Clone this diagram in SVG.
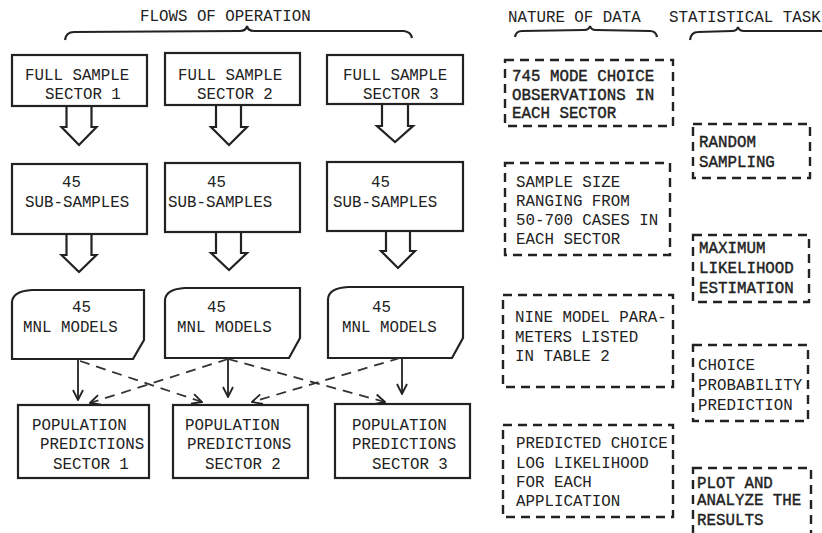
<svg xmlns="http://www.w3.org/2000/svg" width="822" height="533" viewBox="0 0 822 533">
<defs>
<style>
text{font-family:"Liberation Mono","Courier New",monospace;font-size:15.8px;fill:#222}
.b{fill:#222;stroke:#222;stroke-width:0.4}
.box{fill:none;stroke:#222;stroke-width:2.2}
.dbox{fill:none;stroke:#222;stroke-width:2.4;stroke-dasharray:9 6}
.hollow{fill:none;stroke:#222;stroke-width:2.2;stroke-linejoin:miter}
.brace{fill:none;stroke:#222;stroke-width:2.2}
.solid{stroke:#222;stroke-width:1.8;fill:none}
.dash{stroke:#333;stroke-width:1.8;fill:none;stroke-dasharray:10 7}
</style>
<marker id="ah" viewBox="0 0 12 12" refX="11" refY="6" markerWidth="12" markerHeight="12" markerUnits="userSpaceOnUse" orient="auto">
<path d="M1,1 L11,6 L1,11" fill="none" stroke="#222" stroke-width="1.8" stroke-dasharray="none"/>
</marker>
</defs>
<rect width="822" height="533" fill="#fff"/>

<g id="headers">
<text x="140" y="21">FLOWS OF OPERATION</text>
<path class="brace" d="M65,40 Q66,32 74,32 L240,31 Q246,31 247,26 Q248,31 254,31 L404,31 Q411,32 412,38"/>
<text x="508" y="22">NATURE OF DATA</text>
<path class="brace" d="M515,37 Q516,31 522,31 L584,30 Q589,30 590,26 Q591,30 596,30 L650,31 Q656,31 657,37"/>
<text x="669" y="22">STATISTICAL TASK</text>
<path class="brace" d="M690,40 Q691,32 698,32 L732,31 Q737,31 738,27 Q739,31 744,31 L830,31"/>
</g>

<g id="full1"><rect class="box" x="12" y="55" width="135" height="51"/><text x="25" y="80">FULL SAMPLE</text><text x="45" y="99">SECTOR 1</text></g>
<g id="full2"><rect class="box" x="165" y="53" width="135" height="52"/><text x="178" y="80">FULL SAMPLE</text><text x="197" y="99">SECTOR 2</text></g>
<g id="full3"><rect class="box" x="327" y="55" width="136" height="49"/><text x="343" y="80">FULL SAMPLE</text><text x="363" y="99">SECTOR 3</text></g>

<g id="sub1"><rect class="box" x="12" y="164" width="135" height="70"/><text x="62" y="187">45</text><text x="25" y="207">SUB-SAMPLES</text></g>
<g id="sub2"><rect class="box" x="165" y="163" width="135" height="69"/><text x="207" y="187">45</text><text x="168" y="207">SUB-SAMPLES</text></g>
<g id="sub3"><rect class="box" x="327" y="162" width="136" height="69"/><text x="371" y="187">45</text><text x="333" y="207">SUB-SAMPLES</text></g>

<g id="mnl1"><path class="box" d="M12,302 Q13,291 32,290 L144,290 L144,340 L133,359 L12,359 Z"/><text x="72" y="312">45</text><text x="23" y="332">MNL MODELS</text></g>
<g id="mnl2"><path class="box" d="M165,300 Q166,289 185,288 L300,288 L300,338 L289,358 L165,358 Z"/><text x="207" y="312">45</text><text x="177" y="332">MNL MODELS</text></g>
<g id="mnl3"><path class="box" d="M328,299 Q329,288 348,287 L463,287 L463,338 L452,358 L328,358 Z"/><text x="372" y="312">45</text><text x="342" y="332">MNL MODELS</text></g>

<g id="pop1"><rect class="box" x="18" y="405" width="131" height="73"/><text x="32" y="430">POPULATION</text><text x="40" y="449">PREDICTIONS</text><text x="53" y="469">SECTOR 1</text></g>
<g id="pop2"><rect class="box" x="173" y="405" width="135" height="73"/><text x="185" y="430">POPULATION</text><text x="187" y="449">PREDICTIONS</text><text x="205" y="469">SECTOR 2</text></g>
<g id="pop3"><rect class="box" x="335" y="404" width="135" height="74"/><text x="352" y="430">POPULATION</text><text x="352" y="449">PREDICTIONS</text><text x="372" y="469">SECTOR 3</text></g>

<g id="dataA"><rect class="dbox" x="505" y="60" width="168" height="66"/><text class="b" x="512" y="81">745 MODE CHOICE</text><text class="b" x="512" y="100">OBSERVATIONS IN</text><text class="b" x="512" y="118">EACH SECTOR</text></g>
<g id="dataB"><rect class="dbox" x="505" y="163" width="165" height="92"/><text x="516" y="187">SAMPLE SIZE</text><text x="516" y="206">RANGING FROM</text><text x="516" y="225">50-700 CASES IN</text><text x="516" y="244">EACH SECTOR</text></g>
<g id="dataC"><rect class="dbox" x="503" y="295" width="170" height="92"/><text x="515" y="322">NINE MODEL PARA-</text><text x="515" y="342">METERS LISTED</text><text x="515" y="361">IN TABLE 2</text></g>
<g id="dataD"><rect class="dbox" x="503" y="425" width="170" height="92"/><text x="516" y="448">PREDICTED CHOICE</text><text x="516" y="468">LOG LIKELIHOOD</text><text x="516" y="487">FOR EACH</text><text x="516" y="506">APPLICATION</text></g>

<g id="task1"><rect class="dbox" x="693" y="124" width="117" height="54"/><text class="b" x="699" y="147">RANDOM</text><text class="b" x="699" y="167">SAMPLING</text></g>
<g id="task2"><rect class="dbox" x="693" y="235" width="116" height="67"/><text class="b" x="699" y="253">MAXIMUM</text><text class="b" x="699" y="273">LIKELIHOOD</text><text class="b" x="699" y="293">ESTIMATION</text></g>
<g id="task3"><rect class="dbox" x="693" y="345" width="115" height="76"/><text x="698" y="370">CHOICE</text><text x="698" y="390">PROBABILITY</text><text x="698" y="410">PREDICTION</text></g>
<g id="task4"><rect class="dbox" x="693" y="468" width="118" height="80"/><text class="b" x="697" y="488">PLOT AND</text><text class="b" x="697" y="505">ANALYZE THE</text><text class="b" x="697" y="525">RESULTS</text></g>

<g id="connectors">
<path class="hollow" d="M66.5,106 V127 H61.5 L79,145 L96.5,127 H91.5 V106"/>
<path class="hollow" d="M216,105 V127 H211 L229,145 L247,127 H241 V105"/>
<path class="hollow" d="M382,104 V126 H377 L395,142 L413,126 H408 V104"/>
<path class="hollow" d="M66.5,234 V255 H61.5 L79,272 L96.5,255 H91.5 V234"/>
<path class="hollow" d="M216,232 V253 H211 L229,270 L247,253 H241 V232"/>
<path class="hollow" d="M386,231 V251 H381 L398,268 L415,251 H410 V231"/>
<line class="solid" x1="78" y1="360" x2="78" y2="400" marker-end="url(#ah)"/>
<line class="solid" x1="228" y1="358" x2="228" y2="397" marker-end="url(#ah)"/>
<line class="solid" x1="402" y1="358" x2="402" y2="394" marker-end="url(#ah)"/>
<line class="dash" x1="80" y1="361" x2="202" y2="402" marker-end="url(#ah)"/>
<line class="dash" x1="228" y1="359" x2="90" y2="403" marker-end="url(#ah)"/>
<line class="dash" x1="228" y1="359" x2="385" y2="402" marker-end="url(#ah)"/>
<line class="dash" x1="400" y1="358" x2="252" y2="402" marker-end="url(#ah)"/>
</g>
</svg>
